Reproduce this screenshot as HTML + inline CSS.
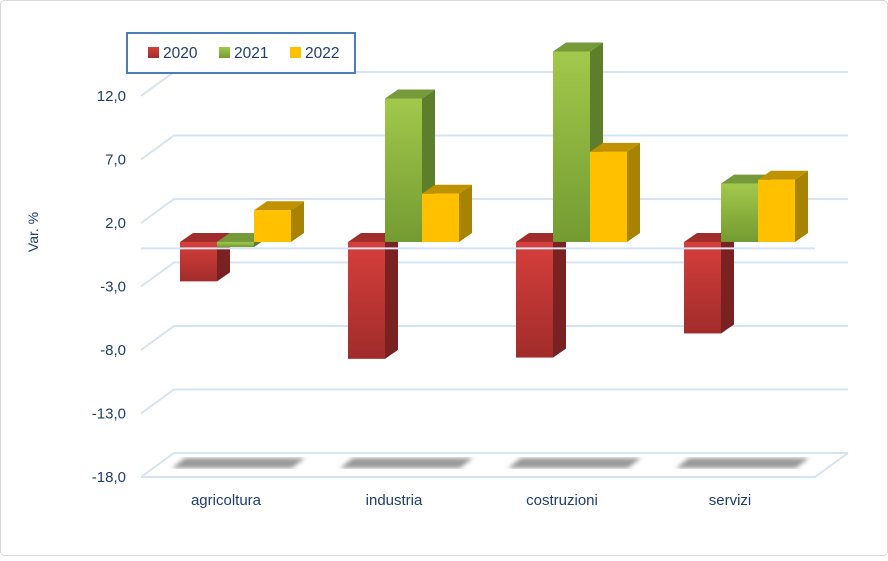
<!DOCTYPE html>
<html><head><meta charset="utf-8"><style>
body{margin:0;background:#fff}
svg text{font-family:"Liberation Sans",sans-serif;fill:#1f3d6e}
</style></head><body>
<svg id="c" width="888" height="556" viewBox="0 0 888 556" xmlns="http://www.w3.org/2000/svg">
<defs>
<linearGradient id="gr" x1="0" y1="0" x2="0" y2="1"><stop offset="0" stop-color="#d63f3c"/><stop offset="1" stop-color="#a12c2a"/></linearGradient>
<linearGradient id="gg" x1="0" y1="0" x2="0" y2="1"><stop offset="0" stop-color="#a2c84b"/><stop offset="1" stop-color="#739b31"/></linearGradient>
<linearGradient id="gy" x1="0" y1="0" x2="0" y2="1"><stop offset="0" stop-color="#ffc000"/><stop offset="1" stop-color="#ffc000"/></linearGradient>
<filter id="bl"><feGaussianBlur stdDeviation="2"/></filter>
</defs>
<rect x="0.5" y="0.5" width="887" height="555" rx="4" fill="#fff" stroke="#d9d9d9"/>
<g id="grid"></g>
<g id="shadows"></g>
<g id="bars"></g>
<g id="axis"></g>
<g id="cats"></g>
<text x="38" y="232" font-size="14" text-anchor="middle" transform="rotate(-90 38 232)">Var. %</text>
<g>
<rect x="127" y="33" width="228" height="40" fill="#fff" stroke="#4a7ebb" stroke-width="2"/>
<g><rect x="148" y="47" width="11" height="11" fill="url(#gr)"/><text x="163" y="58" font-size="15.5">2020</text></g>
<g><rect x="219" y="47" width="11" height="11" fill="url(#gg)"/><text x="234" y="58" font-size="15.5">2021</text></g>
<g><rect x="290" y="47" width="11" height="11" fill="#ffc000"/><text x="305" y="58" font-size="15.5">2022</text></g>
</g>
</svg>
<script>
const categories=["agricoltura","industria","costruzioni","servizi"];
const s2020=[-3.1,-9.2,-9.1,-7.2];
const s2021=[-0.4,11.3,15.0,4.6];
const s2022=[2.5,3.8,7.1,4.9];
const yTicks=[12,7,2,-3,-8,-13,-18];
const yTickLabels=["12,0","7,0","2,0","-3,0","-8,0","-13,0","-18,0"];
const NS="http://www.w3.org/2000/svg";
const PX=12.7;
function yFront(v){return 248.4-v*PX;}
function yBar(v){return 242-v*PX;}
function xGroup(i){return 180+i*168;}
function mk(t,a,p){const e=document.createElementNS(NS,t);for(const k in a)e.setAttribute(k,a[k]);p.appendChild(e);return e;}
const grid=document.getElementById('grid'),axis=document.getElementById('axis');
yTicks.forEach((v,i)=>{
  const yf=yFront(v),yb=yf-24;
  const g=mk('path',{d:`M141 ${yf} L174 ${yb} L848 ${yb}`,fill:'none',stroke:'#d6e3f4','stroke-width':2},grid);
  
  
  const t=mk('text',{x:126,y:yf+5,'font-size':15,'text-anchor':'end'},axis);
  t.textContent=yTickLabels[i];
  
  
});
const fl=mk('path',{d:`M141 ${yFront(-18)} L815 ${yFront(-18)} L848 ${yFront(-18)-24}`,fill:'none',stroke:'#d6e3f4','stroke-width':2},grid);


const sh=document.getElementById('shadows');
categories.forEach((c,i)=>{
  const x=xGroup(i)-8,y=458;
  const p=mk('polygon',{points:`${x} ${y+10} ${x+120} ${y+10} ${x+133} ${y} ${x+13} ${y}`,fill:'#999',filter:'url(#bl)'},sh);
  
  
  const t=mk('text',{x:xGroup(i)+46,y:505,'font-size':15,'text-anchor':'middle'},document.getElementById('cats'));
  t.textContent=c;
  
  
});
const series=[{v:s2020,f:'url(#gr)',s:'#7a2222',t:'#a02d2c',n:'2020'},{v:s2021,f:'url(#gg)',s:'#5d7e2a',t:'#76993a',n:'2021'},{v:s2022,f:'url(#gy)',s:'#a88300',t:'#c19200',n:'2022'}];
const bars=document.getElementById('bars');
const W=37,DX=13,DY=-9;
categories.forEach((c,i)=>{
  series.forEach((s,j)=>{
    const x=xGroup(i)+j*W,v=s.v[i];
    const y0=yBar(0),y1=yBar(v),top=Math.min(y0,y1),bot=Math.max(y0,y1);
    const g=mk('g',{},bars);
    
    
    mk('polygon',{points:`${x+W} ${top} ${x+W+DX} ${top+DY} ${x+W+DX} ${bot+DY} ${x+W} ${bot}`,fill:s.s},g);
    mk('polygon',{points:`${x} ${top} ${x+DX} ${top+DY} ${x+W+DX} ${top+DY} ${x+W} ${top}`,fill:s.t},g);
    mk('rect',{x:x,y:top,width:W,height:Math.max(bot-top,1),fill:s.f},g);
  });
});
const zl=mk('line',{x1:141,y1:yFront(0),x2:815,y2:yFront(0),stroke:'#d6e3f4','stroke-width':2},bars);


</script>
</body></html>
